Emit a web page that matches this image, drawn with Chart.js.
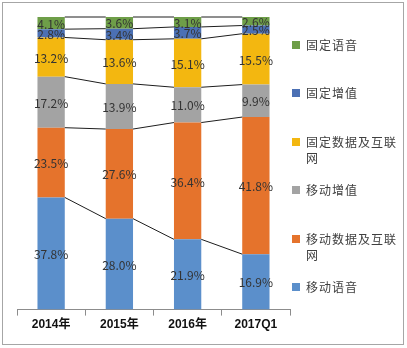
<!DOCTYPE html>
<html>
<head>
<meta charset="utf-8">
<script src="https://cdn.jsdelivr.net/npm/chart.js@4.4.1/dist/chart.umd.min.js"></script>
<style>
  body { margin: 0; background: #fff; }
  #wrap { position: relative; width: 407px; height: 348px; }
  #frame {
    position: absolute; left: 2px; top: 2px; width: 400px; height: 341px;
    border: 1.5px solid #a6a6a6; pointer-events: none;
  }
  .leg {
    position: absolute; left: 292px; font-family: 'Noto Sans CJK SC', sans-serif;
    font-size: 12px; letter-spacing: 1px; color: #404040; line-height: 16px;
  }
  .leg i {
    position: absolute; left: 0; top: 4px; width: 8px; height: 8px;
  }
  .leg span { display: block; margin-left: 14px; width: 100px; }
</style>
</head>
<body>
<div id="wrap">
  <canvas id="chart"></canvas>
  <div id="frame"></div>
  <div id="legend"></div>
</div>
<script>
const categories = ['2014年', '2015年', '2016年', '2017Q1'];

// bottom to top
const seriesNames = ['移动语音', '移动数据及互联网', '移动增值', '固定数据及互联网', '固定增值', '固定语音'];
const mobileVoice = [37.8, 28.0, 21.9, 16.9];
const mobileData = [23.5, 27.6, 36.4, 41.8];
const mobileVas = [17.2, 13.9, 11.0, 9.9];
const fixedData = [13.2, 13.6, 15.1, 15.5];
const fixedVas = [2.8, 3.4, 3.7, 2.5];
const fixedVoice = [4.1, 3.6, 3.1, 2.6];
const seriesColors = ['#5b8fcb', '#e5732c', '#a3a3a3', '#f3b710', '#4b70b4', '#6e9e48'];

const rawSeries = [mobileVoice, mobileData, mobileVas, fixedData, fixedVas, fixedVoice];

// Excel "100% stacked" - every column is scaled to its own total
const totals = categories.map((c, j) => rawSeries.reduce((s, arr) => s + arr[j], 0));

const datasets = rawSeries.map((arr, i) => ({
    label: seriesNames[i],
    data: arr.map((v, j) => v / totals[j] * 100),
    raw: arr,
    backgroundColor: seriesColors[i],
    borderWidth: 0,
    barPercentage: 0.8,
    categoryPercentage: 0.5
}));

// series lines between neighbouring bars
const seriesLines = {
    id: 'seriesLines',
    afterDatasetsDraw(chart) {
        const ctx = chart.ctx;
        ctx.save();
        ctx.strokeStyle = '#1e1e1e';
        ctx.lineWidth = 1;
        chart.data.datasets.forEach((ds, i) => {
            const bars = chart.getDatasetMeta(i).data;
            for (let j = 0; j < bars.length - 1; j++) {
                const a = bars[j], b = bars[j + 1];
                ctx.beginPath();
                ctx.moveTo(a.x + a.width / 2, a.y);
                ctx.lineTo(b.x - b.width / 2, b.y);
                ctx.stroke();
            }
        });
        ctx.restore();
    }
};

const valueLabels = {
    id: 'valueLabels',
    afterDatasetsDraw(chart) {
        const ctx = chart.ctx;
        ctx.save();
        ctx.font = "12px 'Noto Sans CJK SC', sans-serif";
        ctx.fillStyle = '#333333';
        ctx.textAlign = 'center';
        ctx.textBaseline = 'middle';
        chart.data.datasets.forEach((ds, i) => {
            chart.getDatasetMeta(i).data.forEach((bar, j) => {
                const y = (bar.y + bar.base) / 2;
                ctx.fillText(ds.raw[j].toFixed(1) + '%', bar.x, y + 1);
            });
        });
        ctx.restore();
    }
};

new Chart(document.getElementById('chart'), {
    type: 'bar',
    data: { labels: categories, datasets: datasets },
    options: {
        responsive: true,
        maintainAspectRatio: false,
        animation: false,
        layout: { padding: { left: 17, right: 117, top: 17, bottom: 14 } },
        plugins: {
            legend: { display: false },
            tooltip: { enabled: false }
        },
        scales: {
            x: {
                stacked: true,
                border: { display: true, color: '#8c8c8c', width: 1 },
                grid: {
                    display: true,
                    drawOnChartArea: false,
                    drawTicks: true,
                    tickLength: 6,
                    offset: true,
                    color: '#8c8c8c'
                },
                ticks: {
                    color: '#111',
                    padding: 2,
                    font: { family: "'Liberation Sans', 'Noto Sans CJK SC', sans-serif", size: 12, weight: 'bold' }
                }
            },
            y: {
                stacked: true,
                display: false,
                min: 0,
                max: 100
            }
        }
    },
    plugins: [seriesLines, valueLabels]
});

// legend, top to bottom like the reference
const legendRows = [
    { name: '固定语音', top: 37 },
    { name: '固定增值', top: 85 },
    { name: '固定数据及互联网', top: 134 },
    { name: '移动增值', top: 182 },
    { name: '移动数据及互联网', top: 231 },
    { name: '移动语音', top: 279 }
];
const legendBox = document.getElementById('legend');
legendRows.forEach(row => {
    const idx = seriesNames.indexOf(row.name);
    const div = document.createElement('div');
    div.className = 'leg';
    div.style.top = row.top + 'px';
    div.innerHTML = `<i style="background:${seriesColors[idx]}"></i><span>${row.name}</span>`;
    legendBox.appendChild(div);
});
</script>
</body>
</html>
